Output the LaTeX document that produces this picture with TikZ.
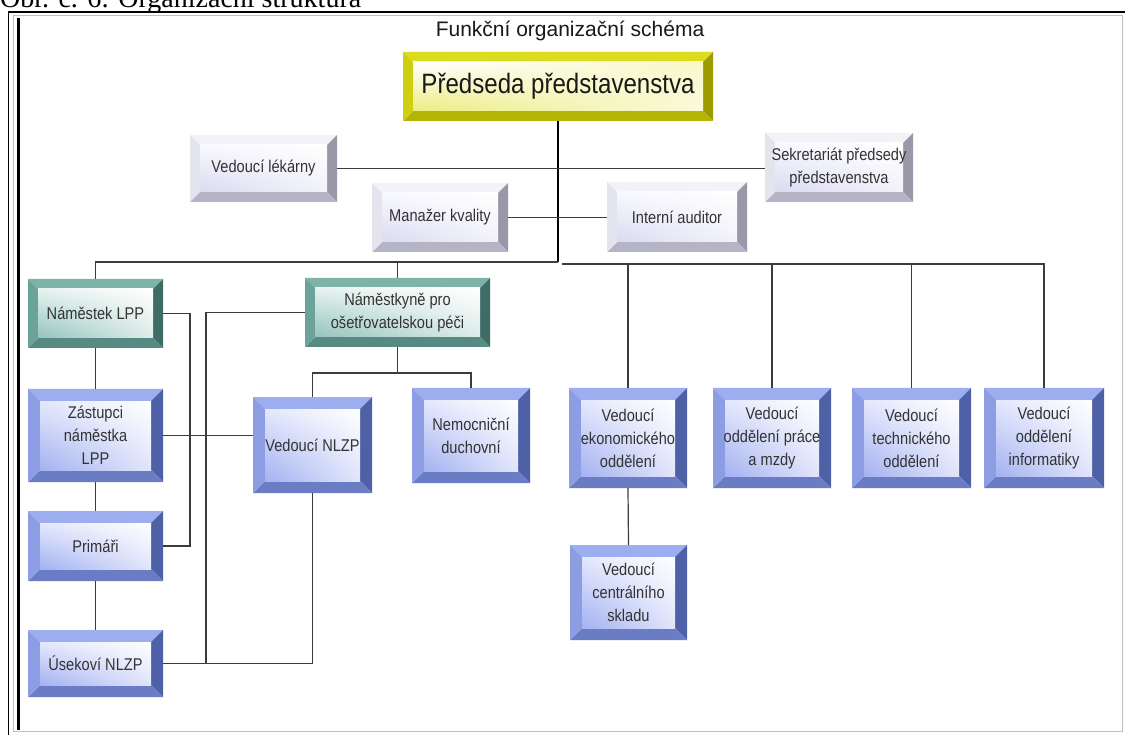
\documentclass[tikz,border=0pt]{standalone}
\usepackage{fontspec}
\usetikzlibrary{shadings}
\setmainfont{Liberation Sans}
\newfontfamily\boxfont[FakeStretch=0.86]{Liberation Sans}
\newfontfamily\capfont{Liberation Serif}
\definecolor{lineC}{HTML}{3C3C3C}
\definecolor{txtC}{HTML}{333333}
% blue
\definecolor{bT}{HTML}{9DAEF0}\definecolor{bL}{HTML}{8C9DE4}\definecolor{bR}{HTML}{4E61A6}\definecolor{bB}{HTML}{6A7DC4}
\definecolor{bF1}{HTML}{A3B1F0}\definecolor{bF2}{HTML}{E4E8FD}\definecolor{bF3}{HTML}{FFFFFF}\definecolor{bF4}{HTML}{E0E5FB}
% teal
\definecolor{tT}{HTML}{7DB3A9}\definecolor{tL}{HTML}{6CA399}\definecolor{tR}{HTML}{3E6D66}\definecolor{tB}{HTML}{578A81}
\definecolor{tF1}{HTML}{94C3BB}\definecolor{tF2}{HTML}{E6F2F0}\definecolor{tF3}{HTML}{FFFFFF}\definecolor{tF4}{HTML}{DDECE9}
% yellow
\definecolor{yT}{HTML}{DCDC1E}\definecolor{yL}{HTML}{CFCF12}\definecolor{yR}{HTML}{9C9C00}\definecolor{yB}{HTML}{B4B405}
\definecolor{yF1}{HTML}{ECEC80}\definecolor{yF2}{HTML}{FFFFFF}\definecolor{yF3}{HTML}{F8F8C8}\definecolor{yF4}{HTML}{FAFADC}
% white
\definecolor{wT}{HTML}{F2F2F8}\definecolor{wL}{HTML}{E4E4EE}\definecolor{wR}{HTML}{9898A8}\definecolor{wB}{HTML}{B4B4C4}
\definecolor{wF1}{HTML}{DADAF2}\definecolor{wF2}{HTML}{F8F8FF}\definecolor{wF3}{HTML}{FFFFFF}\definecolor{wF4}{HTML}{F2F2FA}
\tikzset{
  bevel/.style n args={9}{inner sep=0pt, outer sep=0pt, align=center, text=txtC,
    font=\boxfont\fontsize{17}{23}\selectfont,
    path picture={
      \coordinate (pNW) at (path picture bounding box.north west);
      \coordinate (pNE) at (path picture bounding box.north east);
      \coordinate (pSW) at (path picture bounding box.south west);
      \coordinate (pSE) at (path picture bounding box.south east);
      \coordinate (iNW) at ([xshift=#9,yshift=-#9]pNW);
      \coordinate (iNE) at ([xshift=-#9,yshift=-#9]pNE);
      \coordinate (iSW) at ([xshift=#9,yshift=#9]pSW);
      \coordinate (iSE) at ([xshift=-#9,yshift=#9]pSE);
      \fill[#1] (pNW) -- (pNE) -- (iNE) -- (iNW) -- cycle;
      \fill[#3] (pNE) -- (pSE) -- (iSE) -- (iNE) -- cycle;
      \fill[#4] (pSE) -- (pSW) -- (iSW) -- (iSE) -- cycle;
      \fill[#2] (pSW) -- (pNW) -- (iNW) -- (iSW) -- cycle;
      \shade[lower left=#5, upper left=#6, upper right=#7, lower right=#8] (iNW) rectangle (iSE);
    }},
  bluebox/.style={bevel={bT}{bL}{bR}{bB}{bF1}{bF2}{bF3}{bF4}{12pt}},
  tealbox/.style={bevel={tT}{tL}{tR}{tB}{tF1}{tF2}{tF3}{tF4}{10pt}},
  yellowbox/.style={bevel={yT}{yL}{yR}{yB}{yF1}{yF2}{yF3}{yF4}{10pt}},
  whitebox/.style={bevel={wT}{wL}{wR}{wB}{wF1}{wF2}{wF3}{wF4}{10pt}},
  conn/.style={draw=lineC, line width=1.2pt},
}
\begin{document}
\begin{tikzpicture}[x=1pt,y=-1pt]
\useasboundingbox (0,0) rectangle (1125,735);
\clip (0,0) rectangle (1125,735);
\fill[white] (0,0) rectangle (1125,735);
% caption (cut off at top, as in the reference)
\node[anchor=base west, inner sep=0pt, font=\capfont\fontsize{28}{30}\selectfont] (cap) at (0,8) {Obr. č. 6: Organizační struktura};
% frame
\draw[black!25, line width=1pt] (13,16) rectangle (1122,731);
\draw[black, line width=1.2pt] (8.5,12) -- (8.5,735);
\draw[black, line width=3pt] (18,18) -- (18,730);
\draw[black, line width=2.5pt] (8,12) -- (1125,12);
% title
\node[font=\fontsize{21}{24}\selectfont, text=black!90] (title) at (570,31) {Funkční organizační schéma};
% nodes
\node[yellowbox, minimum width=310pt, minimum height=69pt, font=\boxfont\fontsize{28}{32}\selectfont, text=black!90] (pred) at (558,86.5) {Předseda představenstva};
\node[whitebox, minimum width=147pt, minimum height=67pt] (lek) at (263.5,168.5) {Vedoucí lékárny};
\node[whitebox, minimum width=148pt, minimum height=69pt] (sek) at (839,167.5) {Sekretariát předsedy\\představenstva};
\node[whitebox, minimum width=136pt, minimum height=69pt] (man) at (440,217.5) {Manažer kvality};
\node[whitebox, minimum width=140pt, minimum height=70pt] (aud) at (677,217) {Interní auditor};
\node[tealbox, minimum width=135pt, minimum height=69pt] (namL) at (95.5,313.5) {Náměstek LPP};
\node[tealbox, minimum width=185pt, minimum height=69pt] (namO) at (397.5,312.5) {Náměstkyně pro\\ošetřovatelskou péči};
\node[bluebox, minimum width=135pt, minimum height=93pt] (zas) at (95.5,435.5) {Zástupci\\náměstka\\LPP};
\node[bluebox, minimum width=119pt, minimum height=96pt] (nlzp) at (312.5,445) {Vedoucí NLZP};
\node[bluebox, minimum width=118pt, minimum height=95pt] (duch) at (471,435.5) {Nemocniční\\duchovní};
\node[bluebox, minimum width=118pt, minimum height=100pt] (eko) at (628,438) {Vedoucí\\ekonomického\\oddělení};
\node[bluebox, minimum width=118pt, minimum height=100pt] (mzdy) at (772,438) {Vedoucí\\oddělení práce\\a mzdy};
\node[bluebox, minimum width=119pt, minimum height=100pt] (tech) at (911.5,438) {Vedoucí\\technického\\oddělení};
\node[bluebox, minimum width=120pt, minimum height=100pt] (inf) at (1044,438) {Vedoucí\\oddělení\\informatiky};
\node[bluebox, minimum width=135pt, minimum height=70pt] (prim) at (95.5,546) {Primáři};
\node[bluebox, minimum width=135pt, minimum height=67pt] (usek) at (95.5,663.5) {Úsekoví NLZP};
\node[bluebox, minimum width=117pt, minimum height=95pt] (sklad) at (628.5,592.5) {Vedoucí\\centrálního\\skladu};
% helper coordinates
\coordinate (busL) at (558,262);
\coordinate (busR) at (562,264);
\coordinate (xa) at (190,0);
\coordinate (xb) at (206,0);
\coordinate (ybr) at (0,373);
% connectors
\draw[black, line width=1.6pt] (pred.south) -- (busL);
\draw[conn] (lek.east) -- (lek.east -| sek.west);
\draw[conn] (man.east) -- (man.east -| aud.west);
\draw[conn] (busL) -- (namL.north |- busL) -- (namL.north);
\draw[conn] (namO.north |- busL) -- (namO.north);
\draw[conn] (busR) -- (inf.north |- busR) -- (inf.north);
\draw[conn] (eko.north |- busR) -- (eko.north);
\draw[conn] (mzdy.north |- busR) -- (mzdy.north);
\draw[conn] (tech.north |- busR) -- (tech.north);
\draw[conn] (namL.south) -- (zas.north);
\draw[conn] (zas.south) -- (prim.north);
\draw[conn] (prim.south) -- (usek.north);
\draw[conn] (namL.east) -- (namL.east -| xa) -- (prim.east -| xa) -- (prim.east);
\draw[conn] (namO.west) -- (namO.west -| xb) -- (usek.east -| xb) -- (usek.east);
\draw[conn] (zas.east) -- (zas.east -| nlzp.west);
\draw[conn] (namO.south) -- (namO.south |- ybr);
\draw[conn] (nlzp.north) -- (nlzp.north |- ybr) -- (duch.north |- ybr) -- (duch.north);
\draw[conn] (nlzp.south) -- (nlzp.south |- usek.east) -- (usek.east -| xb);
\draw[conn] (eko.south) -- (sklad.north);
\end{tikzpicture}
\end{document}
